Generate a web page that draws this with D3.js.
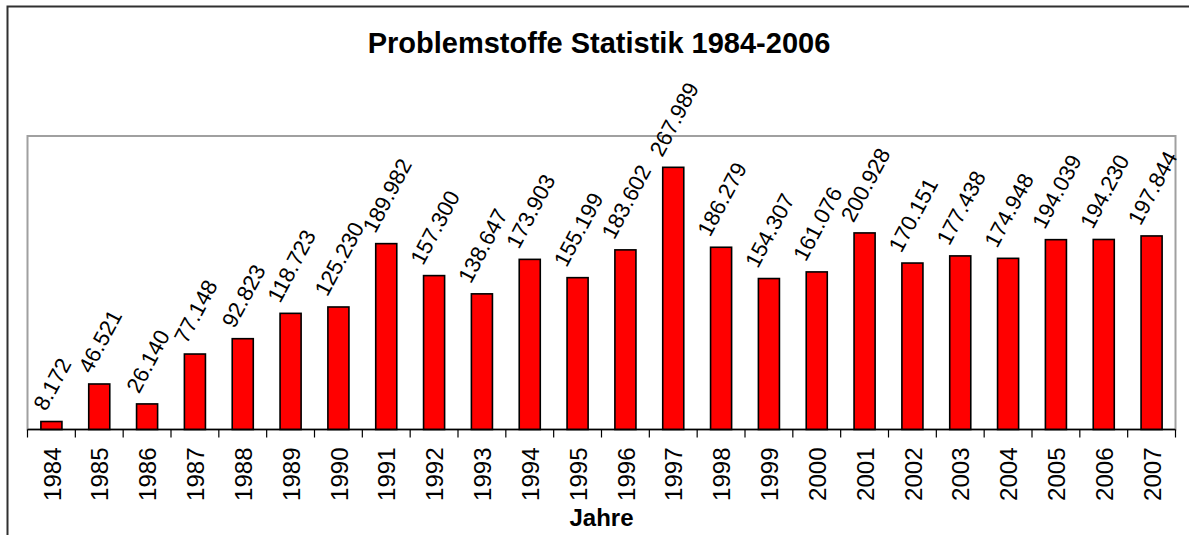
<!DOCTYPE html>
<html>
<head>
<meta charset="utf-8">
<script src="https://cdn.jsdelivr.net/npm/d3@7"></script>
<style>
  html, body { margin: 0; padding: 0; background: #fff; }
  svg { display: block; font-family: "Liberation Sans", Arial, sans-serif; }
</style>
</head>
<body>
<svg id="chart" width="1189" height="535"></svg>
<script>
// Problemstoffe – collected amounts per year
const years = ["1984","1985","1986","1987","1988","1989","1990","1991","1992","1993","1994","1995",
               "1996","1997","1998","1999","2000","2001","2002","2003","2004","2005","2006","2007"];
const amounts = [8172, 46521, 26140, 77148, 92823, 118723, 125230, 189982, 157300, 138647, 173903, 155199,
                 183602, 267989, 186279, 154307, 161076, 200928, 170151, 177438, 174948, 194039, 194230, 197844];
const yDomain = [0, 300000];
const titleText = "Problemstoffe Statistik 1984-2006";
const xTitle = "Jahre";

const data = years.map((y, i) => ({ year: y, value: amounts[i] }));

const de = d3.formatLocale({ decimal: ",", thousands: ".", grouping: [3], currency: ["", " €"] });
const fmt = de.format(",d");

const svg = d3.select("#chart");
const W = 1189, H = 535;

// chart frame
svg.append("rect")
  .attr("x", 7.5).attr("y", 6.5)
  .attr("width", W + 20).attr("height", H + 20)
  .attr("fill", "#fff").attr("stroke", "#303030").attr("stroke-width", 2);

const plot = { left: 27.5, right: 1175.5, top: 136, bottom: 429.5 };

const x = d3.scaleBand().domain(years).range([plot.left, plot.right]).padding(0);
const y = d3.scaleLinear().domain(yDomain).range([plot.bottom, plot.top]);

// plot area border
svg.append("rect")
  .attr("x", plot.left).attr("y", plot.top)
  .attr("width", plot.right - plot.left).attr("height", plot.bottom - plot.top)
  .attr("fill", "none").attr("stroke", "#a0a0a0").attr("stroke-width", 2);

// title
svg.append("text")
  .attr("x", 599).attr("y", 52.5)
  .attr("text-anchor", "middle")
  .attr("font-size", 29).attr("font-weight", "bold")
  .text(titleText);

// bars
const barW = x.bandwidth() * 0.44;
svg.append("g").selectAll("rect")
  .data(data).join("rect")
  .attr("x", d => x(d.year) + (x.bandwidth() - barW) / 2)
  .attr("y", d => y(d.value))
  .attr("width", barW)
  .attr("height", d => y(0) - y(d.value))
  .attr("fill", "#ff0000")
  .attr("stroke", "#000").attr("stroke-width", 1.6);

// x axis: ticks between categories
const boundaries = years.map(yr => x(yr)).concat([plot.right]);
const axis = svg.append("g");
axis.append("line")
  .attr("x1", plot.left).attr("x2", plot.right)
  .attr("y1", plot.bottom).attr("y2", plot.bottom)
  .attr("stroke", "#000").attr("stroke-width", 1.6);
axis.selectAll("line.tick").data(boundaries).join("line")
  .attr("class", "tick")
  .attr("x1", d => d).attr("x2", d => d)
  .attr("y1", plot.bottom).attr("y2", plot.bottom + 8)
  .attr("stroke", "#000").attr("stroke-width", 1.2);

// year labels
axis.selectAll("text").data(years).join("text")
  .attr("transform", d => `translate(${x(d) + x.bandwidth() / 2 + 0.5},${plot.bottom + 18}) rotate(-90)`)
  .attr("text-anchor", "end")
  .attr("dy", "0.36em")
  .attr("font-size", 24)
  .text(d => d);

// axis title
svg.append("text")
  .attr("x", (plot.left + plot.right) / 2).attr("y", 526)
  .attr("text-anchor", "middle")
  .attr("font-size", 24).attr("font-weight", "bold")
  .text(xTitle);

// value labels, rotated above each bar
const angle = 62;
const rad = angle * Math.PI / 180;
const labelSize = 22;
const gap = 8;
const labels = svg.append("g").selectAll("text")
  .data(data).join("text")
  .attr("font-size", labelSize)
  .attr("text-anchor", "middle")
  .attr("dominant-baseline", "central")
  .text(d => fmt(d.value));
labels.each(function(d) {
  const L = this.getComputedTextLength();
  const h = labelSize * 0.95;
  const half = (L / 2) * Math.sin(rad) + (h / 2) * Math.cos(rad);
  const cx = x(d.year) + x.bandwidth() / 2 + 1;
  const cy = y(d.value) - gap - half;
  d3.select(this).attr("transform", `translate(${cx},${cy}) rotate(${-angle})`);
});
</script>
</body>
</html>
